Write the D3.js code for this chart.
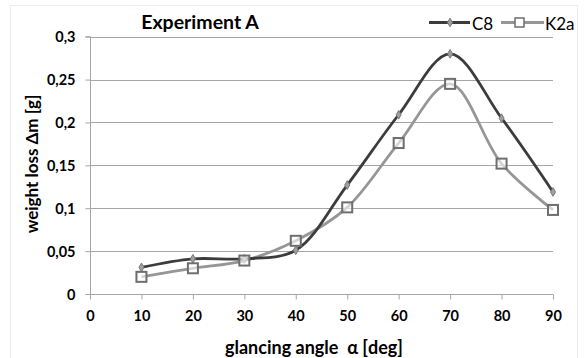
<!DOCTYPE html>
<html>
<head>
<meta charset="utf-8">
<script src="https://cdn.jsdelivr.net/npm/d3@7"></script>
<style>
  html, body { margin: 0; padding: 0; background: #fff; }
  svg { display: block; }
  text { font-family: Lato, "Open Sans", "Liberation Sans", sans-serif; }
</style>
</head>
<body>
<svg id="chart" width="587" height="358"></svg>
<script>
// Glancing angle (deg) and measured weight loss (g)
const angles = [10, 20, 30, 40, 50, 60, 70, 80, 90];
const c8 = [0.031, 0.041, 0.041, 0.051, 0.127, 0.209, 0.280, 0.205, 0.119];
const k2a = [0.020, 0.030, 0.039, 0.062, 0.101, 0.176, 0.245, 0.152, 0.098];
const xTicks = [0, 10, 20, 30, 40, 50, 60, 70, 80, 90];
const yTicks = [0, 0.05, 0.1, 0.15, 0.2, 0.25, 0.3];
const seriesNames = ["C8", "K2a"];

const svg = d3.select("#chart");

const x = d3.scaleLinear().domain([0, 90]).range([90, 553]);
const y = d3.scaleLinear().domain([0, 0.3]).range([294, 36.7]);

// decimal comma labels
const fmt = d => String(+d.toFixed(2)).replace(".", ",");

// chart-area frame
svg.append("rect")
  .attr("x", 10.5).attr("y", 5.5).attr("width", 567).attr("height", 400)
  .attr("fill", "none").attr("stroke", "#ececec");

// horizontal gridlines
svg.append("g").selectAll("line")
  .data(yTicks.filter(d => d > 0))
  .join("line")
  .attr("x1", x(0)).attr("x2", x(90))
  .attr("y1", d => Math.round(y(d)) + 0.5).attr("y2", d => Math.round(y(d)) + 0.5)
  .attr("stroke", "#a6a6a6").attr("stroke-width", 1);

// y axis
const yAxis = svg.append("g")
  .attr("transform", `translate(${x(0) + 0.5},0)`)
  .call(d3.axisLeft(y).tickValues(yTicks).tickFormat(fmt).tickSize(5).tickPadding(10));
yAxis.select(".domain").attr("stroke", "#a6a6a6").attr("d", `M-5,${y(0.3)}H0V${y(0)}`);
yAxis.selectAll(".tick line").attr("stroke", "#a6a6a6");
yAxis.selectAll(".tick text")
  .attr("fill", "#000").style("font-size", "14.5px").style("font-weight", "bold")
  .attr("dy", "0.36em");

// x axis
const xAxis = svg.append("g")
  .attr("transform", `translate(0,${Math.round(y(0)) + 0.5})`)
  .call(d3.axisBottom(x).tickValues(xTicks).tickFormat(d => d).tickSize(5).tickPadding(11));
xAxis.select(".domain").attr("stroke", "#a6a6a6").attr("d", `M${x(0)},0H${x(90)}`);
xAxis.selectAll(".tick line").attr("stroke", "#a6a6a6");
xAxis.selectAll(".tick text")
  .attr("fill", "#000").style("font-size", "14.5px").style("font-weight", "bold");

// smoothed series lines
const line = d3.line()
  .x((d, i) => x(angles[i]))
  .y(d => y(d))
  .curve(d3.curveCatmullRom.alpha(0.5));

svg.append("path").datum(k2a)
  .attr("d", line).attr("fill", "none")
  .attr("stroke", "#969696").attr("stroke-width", 2.8);

svg.append("path").datum(c8)
  .attr("d", line).attr("fill", "none")
  .attr("stroke", "#3c3c3c").attr("stroke-width", 2.8);

// markers
const diamond = d3.symbol().type(d3.symbolDiamond).size(22);
svg.append("g").selectAll("path")
  .data(c8).join("path")
  .attr("transform", (d, i) => `translate(${x(angles[i])},${y(d)})`)
  .attr("d", diamond)
  .attr("fill", "#a0a0a0").attr("stroke", "#7a7a7a").attr("stroke-width", 1);

svg.append("g").selectAll("rect")
  .data(k2a).join("rect")
  .attr("x", (d, i) => x(angles[i]) - 5).attr("y", d => y(d) - 5)
  .attr("width", 10).attr("height", 10)
  .attr("fill", "#ffffff").attr("fill-opacity", 0.6)
  .attr("stroke", "#6e6e6e").attr("stroke-width", 2);

// title
svg.append("text")
  .attr("x", 200).attr("y", 29)
  .attr("text-anchor", "middle")
  .style("font-size", "19.5px").style("font-weight", "bold")
  .text("Experiment A");

// legend
const lg = svg.append("g");
lg.append("line").attr("x1", 429).attr("x2", 470).attr("y1", 22.5).attr("y2", 22.5)
  .attr("stroke", "#3c3c3c").attr("stroke-width", 2.8);
lg.append("path").attr("transform", "translate(450,22.5)").attr("d", diamond)
  .attr("fill", "#a0a0a0").attr("stroke", "#7a7a7a");
lg.append("text").attr("x", 472).attr("y", 29.5).style("font-size", "17px").text(seriesNames[0]);
lg.append("line").attr("x1", 501).attr("x2", 544).attr("y1", 22.5).attr("y2", 22.5)
  .attr("stroke", "#969696").attr("stroke-width", 2.8);
lg.append("rect").attr("x", 515).attr("y", 18).attr("width", 9).attr("height", 9)
  .attr("fill", "#fff").attr("stroke", "#6e6e6e").attr("stroke-width", 1.5);
lg.append("text").attr("x", 545).attr("y", 29.5).style("font-size", "17px").text(seriesNames[1]);

// axis titles
svg.append("text")
  .attr("x", 314).attr("y", 354)
  .attr("text-anchor", "middle")
  .style("font-size", "18px").style("font-weight", "bold")
  .style("white-space", "pre")
  .text("glancing angle  α [deg]");

svg.append("text")
  .attr("transform", "translate(38,164) rotate(-90)")
  .attr("text-anchor", "middle")
  .style("font-size", "17px").style("font-weight", "bold")
  .text("weight loss Δm [g]");
</script>
</body>
</html>
